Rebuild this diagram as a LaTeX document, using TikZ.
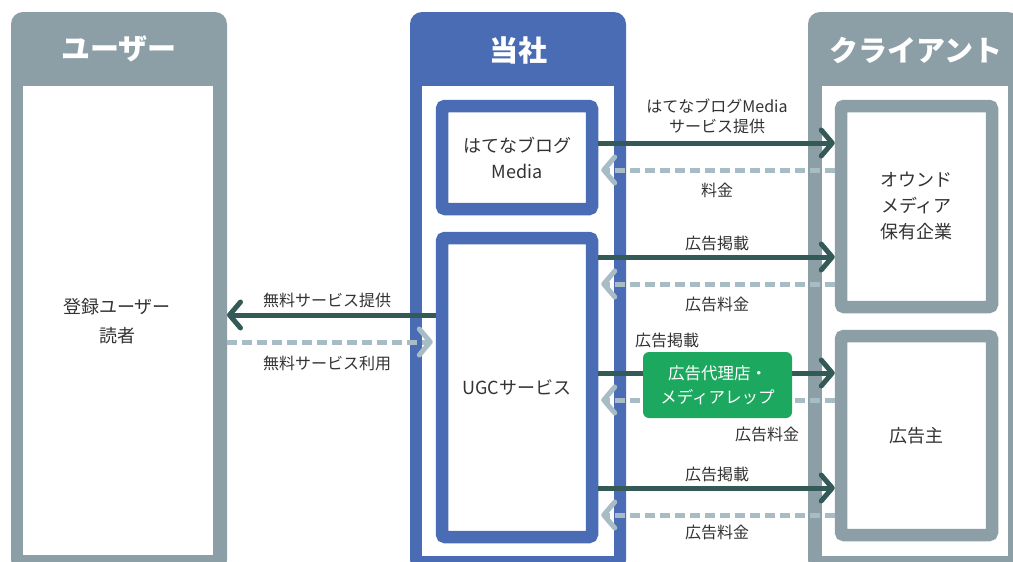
\documentclass[tikz,border=0pt]{standalone}
\usepackage{fontspec}
\setmainfont{Noto Sans CJK JP}
\usetikzlibrary{arrows.meta}
\definecolor{pgrey}{RGB}{140,159,166}
\definecolor{pblue}{RGB}{74,108,181}
\definecolor{adark}{RGB}{52,90,88}
\definecolor{alight}{RGB}{168,188,198}
\definecolor{agreen}{RGB}{28,168,95}
\definecolor{txt}{RGB}{51,51,51}
\begin{document}
\begin{tikzpicture}[x=1pt,y=-1pt,
 panel/.style={anchor=north west, inner sep=0pt, outer sep=0pt, rounded corners=12pt},
 inwhite/.style={anchor=north west, fill=white, inner sep=0pt, outer sep=0pt},
 subbox/.style={draw=#1, line width=12.5pt, rounded corners=3pt, fill=white, inner sep=0pt, text=txt, font=\fontsize{18}{26}\selectfont, align=center},
 head/.style={text=white, font=\bfseries\fontsize{29}{34}\selectfont, inner sep=0pt},
 lbl/.style={text=txt, font=\fontsize{16}{20}\selectfont, align=center, inner sep=0pt},
 sol/.style={draw=adark, line width=5pt, -{Straight Barb[length=11pt,width=26pt,round]}},
 dsh/.style={draw=alight, line width=5pt, dash pattern=on 10pt off 5pt, -{Straight Barb[length=11pt,width=26pt,round]}, shorten >=3pt},
]
\useasboundingbox (0,0) rectangle (1013,562);
\clip (0,0) rectangle (1013,562);
\fill[white] (0,0) rectangle (1013,562);

% panels
\node[panel, fill=pgrey, minimum width=216pt, minimum height=560pt] (userP) at (11,12) {};
\node[inwhite, minimum width=190pt, minimum height=469pt] (userI) at (23,86) {};
\node[head] (userH) at (119,49) {ユーザー};

\node[panel, fill=pblue, minimum width=216pt, minimum height=560pt] (compP) at (410,12) {};
\node[inwhite, minimum width=192pt, minimum height=470pt] (compI) at (422,86) {};
\node[head] (compH) at (518,50) {当社};

\node[panel, fill=pgrey, minimum width=212pt, minimum height=560pt] (cliP) at (808,12) {};
\node[inwhite, minimum width=186pt, minimum height=470pt] (cliI) at (822,86) {};
\node[head] (cliH) at (916,50) {クライアント};

% inner boxes
\node[subbox=pblue, minimum width=150pt, minimum height=103pt] (hm) at (517,157.5) {はてなブログ\\Media};
\node[subbox=pblue, minimum width=150pt, minimum height=299pt] (ugc) at (517,387.5) {UGCサービス};
\node[subbox=pgrey, minimum width=151pt, minimum height=201pt] (own) at (916.5,206.5) {オウンド\\メディア\\保有企業};
\node[subbox=pgrey, minimum width=151pt, minimum height=199pt] (adv) at (916.5,435.5) {広告主};
\node[text=txt, font=\fontsize{18}{29}\selectfont, align=center, inner sep=0pt] (reader) at (117,321) {登録ユーザー\\読者};

% arrows
\draw[sol] (hm.east |- 0,143) -- (own.west |- 0,143);
\draw[dsh] (own.west |- 0,170) -- (hm.east |- 0,170);
\draw[sol] (ugc.east |- 0,257) -- (own.west |- 0,257);
\draw[dsh] (own.west |- 0,284) -- (ugc.east |- 0,284);
\draw[sol] (ugc.east |- 0,373) -- (adv.west |- 0,373);
\draw[dsh] (adv.west |- 0,400) -- (ugc.east |- 0,400);
\draw[sol] (ugc.east |- 0,488) -- (adv.west |- 0,488);
\draw[dsh] (adv.west |- 0,515) -- (ugc.east |- 0,515);
\draw[sol] (ugc.west |- 0,315) -- (userP.east |- 0,315);
\draw[dsh] (userP.east |- 0,342) -- (ugc.west |- 0,342);

% agency box
\node[fill=agreen, rounded corners=6pt, minimum width=149pt, minimum height=66pt, text=white, font=\fontsize{16.5}{24}\selectfont, align=center, inner sep=0pt] (agency) at (717.5,385) {広告代理店・\\メディアレップ};

% labels
\node[lbl] (l1) at (717,116) {はてなブログMedia\\サービス提供};
\node[lbl] (l2) at (717,190) {料金};
\node[lbl] (l3) at (717,243) {広告掲載};
\node[lbl] (l4) at (717,304) {広告料金};
\node[lbl] (l5) at (667,340) {広告掲載};
\node[lbl] (l6) at (767,434) {広告料金};
\node[lbl] (l7) at (717,474) {広告掲載};
\node[lbl] (l8) at (717,532) {広告料金};
\node[lbl] (l9) at (327,300) {無料サービス提供};
\node[lbl] (l10) at (327,363) {無料サービス利用};
\end{tikzpicture}
\end{document}
